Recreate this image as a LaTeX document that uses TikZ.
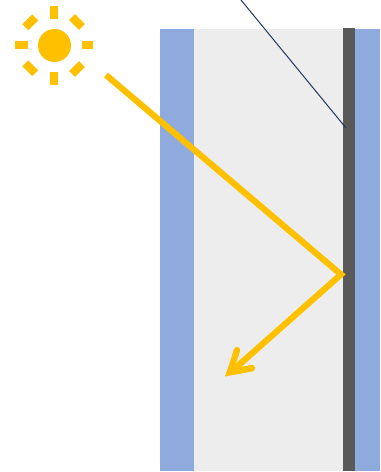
\documentclass[tikz,border=0pt]{standalone}
\usetikzlibrary{arrows.meta}
\definecolor{paneblue}{HTML}{8FAADC}
\definecolor{gapgray}{HTML}{EDEDED}
\definecolor{coating}{HTML}{595959}
\definecolor{sunny}{HTML}{FFC000}
\definecolor{navy}{HTML}{1F3864}
\tikzset{
  ray/.style={fill=sunny,draw=none},
  beam/.style={draw=sunny,line width=6.2bp,line cap=butt,line join=miter,miter limit=10},
  barb/.style={draw=sunny,line width=6.2bp,line cap=round}
}
\begin{document}
\begin{tikzpicture}[x=1bp,y=-1bp]
\useasboundingbox (0,0) rectangle (380,472);
\fill[white] (0,0) rectangle (380,472);
\fill[paneblue] (160,29) rectangle (194,471);
\fill[gapgray] (194,29) rectangle (343,471);
\fill[paneblue] (355,29) rectangle (380,471);
\fill[coating] (343,28) rectangle (355,470.5);
% sun
\fill[sunny] (54.5,45.5) circle (16.5);
\fill[ray] (50,6) rectangle (58,19);
\fill[ray] (50,72) rectangle (58,85);
\fill[ray] (14.5,41.5) rectangle (27.5,49.5);
\fill[ray] (81.5,41.5) rectangle (93,49.5);
\foreach \cx/\cy/\ang in {30.3/22.3/45, 77/22/-45, 30.3/68.3/-45, 77/69/45}
  \fill[ray,shift={(\cx,\cy)},rotate=\ang] (-7,-4.2) rectangle (7,4.2);
% thin line
\coordinate (lineA) at (241,0);
\coordinate (lineB) at (346,128);
\draw[navy,line width=1bp] (lineA) -- (lineB);
% beam
\coordinate (beamStart) at (106,75);
\coordinate (beamHit) at (341,274.5);
\coordinate (beamEnd) at (232,371);
\coordinate (tip) at (225,376.5);
\draw[beam] (beamStart) -- (beamHit) -- (beamEnd);
\draw[barb] (237,350) -- (230,372) -- (252,368);
\fill[sunny] (tip) -- (234,352) -- (240,351) -- (233,370) -- (252,365) -- (254,371) -- cycle;
\end{tikzpicture}
\end{document}
